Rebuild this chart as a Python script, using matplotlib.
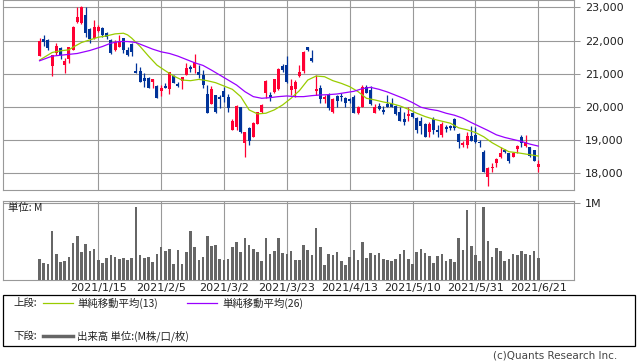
import numpy as np
import matplotlib
matplotlib.use("Agg")
import matplotlib.pyplot as plt
from matplotlib.lines import Line2D
from matplotlib.patches import Rectangle
from matplotlib.ticker import FuncFormatter

plt.rcParams['font.family'] = ['DejaVu Sans', 'Noto Sans CJK JP']
JP = ['Noto Sans CJK JP', 'DejaVu Sans']

# daily candles (yen)
opens = [21540, 22050, 22020, 21240, 21620, 21770, 21260, 21440, 21720, 22570,
         22520, 22770, 22340, 22070, 22300, 22370, 22220, 22020, 21700, 21820,
         22070, 21700, 21890, 21090, 21090, 20860, 20880, 20760, 20640, 20490,
         20640, 20540, 20930, 20690, 20780, 20960, 21210, 21160, 21060, 20960,
         20390, 20090, 20360, 20290, 20490, 20310, 19310, 19410, 20010, 18920,
         19360, 19100, 19490, 19860, 20430, 20360, 20460, 20530, 21240, 21260,
         20510, 20530, 20930, 21090, 21800, 21460, 20480, 20560, 20230, 20360,
         19860, 20330, 20330, 20260, 20230, 20290, 19830, 20010, 20590, 20510,
         19830, 20030, 19910, 20090, 20110, 20030, 19860, 19630, 19730, 19830,
         19660, 19590, 19490, 19250, 19630, 19310, 19150, 19390, 19430, 19640,
         19180, 18840, 18850, 19120, 19150, 18950, 18650, 17900, 18150, 18300,
         18480, 18700, 18620, 18500, 18720, 19100, 18830, 18800, 18700, 18200]
highs = [22080, 22180, 22050, 21570, 21920, 21820, 21460, 21820, 22440, 23000,
         23040, 23000, 22370, 22620, 22470, 22400, 22270, 22040, 22020, 22170,
         22090, 21820, 21920, 21330, 21210, 21030, 20910, 20850, 20660, 20660,
         20710, 21060, 20960, 20760, 20890, 21310, 21260, 21580, 21260, 21110,
         20660, 20630, 20360, 20360, 20610, 20380, 19630, 20060, 20010, 19230,
         19410, 19560, 19860, 20090, 20810, 20460, 20830, 21160, 21290, 21530,
         20830, 20810, 21260, 21670, 21820, 21710, 20960, 20660, 20360, 20410,
         20260, 20360, 20430, 20310, 20260, 20360, 20030, 20660, 20660, 20630,
         20090, 20110, 20030, 20360, 20260, 20060, 20010, 19860, 19990, 19860,
         19710, 19710, 19510, 19560, 19690, 19460, 19560, 19460, 19460, 19660,
         19200, 18980, 19250, 19420, 19390, 19000, 18700, 18200, 18300, 18450,
         18780, 18720, 18620, 18650, 18850, 19160, 19160, 18800, 18700, 18400]
lows = [21540, 21840, 21700, 20930, 21560, 21440, 21030, 21310, 21710, 22520,
        22500, 22120, 21920, 22040, 22270, 22120, 22040, 21600, 21670, 21800,
        21620, 21530, 21530, 21010, 20760, 20610, 20560, 20560, 20280, 20330,
        20560, 20390, 20710, 20590, 20530, 20960, 21060, 21030, 20860, 20560,
        19830, 20090, 19830, 19960, 20160, 19860, 19310, 19310, 19200, 18480,
        18850, 19080, 19490, 19830, 20260, 20190, 20410, 20510, 21060, 20710,
        20360, 20290, 20890, 21030, 21670, 21360, 20360, 20130, 20130, 19910,
        19830, 20010, 20190, 20010, 20110, 19810, 19790, 19990, 20410, 20060,
        19810, 19910, 19790, 19990, 19990, 19760, 19590, 19460, 19590, 19660,
        19210, 19180, 19090, 19100, 19180, 19100, 19100, 19230, 19290, 19310,
        18750, 18780, 18750, 18980, 18920, 18800, 18050, 17620, 18050, 18200,
        18450, 18620, 18320, 18480, 18620, 18780, 18800, 18480, 18380, 18040]
closes = [21980, 21970, 21790, 21560, 21840, 21560, 21390, 21790, 22420, 22720,
          23000, 22240, 22040, 22420, 22420, 22170, 22100, 21620, 21970, 21970,
          21700, 21560, 21650, 21030, 20760, 20790, 20570, 20840, 20280, 20580,
          20580, 21040, 20710, 20630, 20890, 21180, 21150, 21360, 20960, 20660,
          19830, 20530, 19860, 20240, 20290, 19960, 19590, 20030, 19230, 19230,
          18980, 19530, 19860, 20060, 20780, 20310, 20830, 21140, 21110, 20760,
          20630, 20760, 21060, 21640, 21700, 21390, 20530, 20230, 20290, 19960,
          20230, 20190, 20290, 20110, 20180, 19830, 20010, 20590, 20430, 20090,
          19990, 19950, 19860, 20010, 20010, 19790, 19590, 19550, 19790, 19690,
          19290, 19430, 19090, 19490, 19290, 19250, 19490, 19330, 19360, 19360,
          18950, 18920, 19120, 18980, 18950, 18900, 18050, 18150, 18200, 18420,
          18620, 18650, 18380, 18600, 18820, 18900, 18900, 18520, 18380, 18280]

# volume (millions)
volume = [0.274, 0.222, 0.209, 0.639, 0.339, 0.235, 0.248, 0.300, 0.483, 0.574,
          0.365, 0.470, 0.378, 0.404, 0.261, 0.222, 0.287, 0.326, 0.300, 0.274,
          0.287, 0.261, 0.287, 0.952, 0.326, 0.287, 0.300, 0.235, 0.339, 0.430,
          0.378, 0.404, 0.209, 0.391, 0.209, 0.365, 0.639, 0.430, 0.261, 0.300,
          0.574, 0.443, 0.457, 0.274, 0.261, 0.274, 0.430, 0.496, 0.365, 0.548,
          0.457, 0.404, 0.365, 0.248, 0.548, 0.339, 0.378, 0.548, 0.352, 0.339,
          0.378, 0.261, 0.261, 0.457, 0.391, 0.326, 0.678, 0.430, 0.196, 0.339,
          0.326, 0.365, 0.248, 0.196, 0.300, 0.391, 0.261, 0.496, 0.287, 0.352,
          0.326, 0.352, 0.274, 0.261, 0.248, 0.274, 0.339, 0.391, 0.274, 0.209,
          0.365, 0.404, 0.352, 0.313, 0.222, 0.313, 0.339, 0.248, 0.274, 0.235,
          0.548, 0.391, 0.913, 0.443, 0.326, 0.248, 0.952, 0.509, 0.300, 0.417,
          0.378, 0.248, 0.274, 0.339, 0.326, 0.378, 0.339, 0.326, 0.378, 0.287]

# moving averages
ma13_idx = [0, 3, 5, 7, 8, 10, 12, 14, 16, 18, 20, 21, 22, 24, 26, 28, 30, 32, 34, 36,
            38, 40, 42, 44, 46, 48, 50, 52, 54, 56, 58, 60, 62, 64, 66, 68, 70, 72, 74, 76,
            78, 80, 82, 84, 86, 88, 90, 92, 94, 96, 98, 100, 102, 104, 106, 108, 110, 112,
            114, 116, 119]
ma13 = [21410, 21640, 21690, 21720, 21800, 21940, 22020, 22100, 22140, 22200, 22220,
        22170, 22070, 21820, 21530, 21260, 21090, 20930, 20810, 20790, 20830, 20790,
        20730, 20630, 20530, 20310, 19910, 19790, 19810, 19910, 20060, 20260, 20490,
        20810, 20930, 20910, 20790, 20710, 20610, 20460, 20260, 20210, 20150, 20100,
        20030, 19930, 19810, 19710, 19630, 19570, 19510, 19370, 19310, 19230, 19100,
        18920, 18780, 18650, 18620, 18580, 18520]
ma26_idx = [0, 3, 6, 9, 12, 15, 17, 19, 21, 23, 25, 27, 29, 31, 33, 35, 37, 39, 41, 43,
            45, 47, 49, 51, 53, 55, 57, 59, 61, 63, 65, 67, 69, 71, 73, 75, 77, 79, 81, 83,
            85, 87, 89, 91, 93, 95, 97, 99, 101, 103, 105, 107, 109, 111, 113, 115, 117, 119]
ma26 = [21390, 21530, 21570, 21610, 21700, 21820, 21920, 21970, 21970, 21940, 21840,
        21740, 21660, 21610, 21530, 21430, 21330, 21250, 21110, 20960, 20810, 20660,
        20460, 20310, 20260, 20280, 20310, 20330, 20310, 20310, 20340, 20360, 20370,
        20390, 20430, 20470, 20550, 20590, 20530, 20450, 20350, 20250, 20130, 19990,
        19930, 19890, 19810, 19750, 19660, 19530, 19410, 19290, 19160, 19080, 19020,
        18960, 18880, 18820]

tick_idx = [14, 29, 44, 59, 74, 89, 104, 119]
tick_labels = ['2021/1/15', '2021/2/5', '2021/3/2', '2021/3/23',
               '2021/4/13', '2021/5/10', '2021/5/31', '2021/6/21']
price_ticks = [18000, 19000, 20000, 21000, 22000, 23000]

W, H = 638, 362
UP = '#ff0033'
DOWN = '#003399'
GRID = '#999999'


def fx(x):
    return x / W


def fy(y):
    return 1 - y / H


fig = plt.figure(figsize=(W / 100, H / 100), dpi=100)

# price panel
ax = fig.add_axes([fx(3), fy(190), 571.3 / W, 190 / H])
o = np.array(opens)
c = np.array(closes)
x = np.arange(len(o))
colors = np.where(c >= o, UP, DOWN)
ax.vlines(x, lows, highs, colors=colors, lw=0.9, zorder=3)
body = np.maximum(np.abs(c - o), 30)
ax.bar(x, body, bottom=np.minimum(o, c), width=0.72, color=colors, lw=0, zorder=4)
ax.plot(ma13_idx, ma13, color='#99cc00', lw=0.9, zorder=5)
ax.plot(ma26_idx, ma26, color='#9900ff', lw=0.9, zorder=5)

ax.set_xlim(-8.73, 127.6)
ax.set_ylim(17497, 23221)
ax.set_xticks(tick_idx)
ax.set_xticklabels([])
ax.yaxis.tick_right()
ax.set_yticks(price_ticks)
ax.yaxis.set_major_formatter(FuncFormatter(lambda v, p: f'{int(v):,}'))
ax.tick_params(axis='x', length=0)
ax.tick_params(axis='y', length=4.5, width=0.75, color=GRID, pad=3,
               labelsize=8, labelcolor='#222222')
ax.grid(True, color=GRID, lw=0.8, zorder=0)
ax.set_axisbelow(True)
for s in ax.spines.values():
    s.set_color(GRID)
    s.set_linewidth(0.8)

# volume panel
axv = fig.add_axes([fx(3), fy(280), 571.3 / W, 78.7 / H])
axv.bar(x, volume, width=0.62, color='#666666', lw=0, zorder=3)
axv.set_xlim(-8.73, 127.6)
axv.set_ylim(0, 1.026)
axv.set_xticks(tick_idx)
axv.set_xticklabels(tick_labels, fontsize=8, color='#222222')
axv.yaxis.tick_right()
axv.set_yticks([1.0])
axv.set_yticklabels(['1M'], fontsize=8, color='#222222')
axv.tick_params(axis='x', length=0, pad=2)
axv.tick_params(axis='y', length=4.5, width=0.75, color=GRID, pad=3)
axv.grid(True, color=GRID, lw=0.8, zorder=0)
axv.set_axisbelow(True)
for s in axv.spines.values():
    s.set_color(GRID)
    s.set_linewidth(0.8)
fig.text(fx(8), fy(208), '単位: M', fontsize=7.5, family=JP, va='center', ha='left', color='#222222')

# legend box
fig.patches.append(Rectangle((fx(3), fy(346)), 632 / W, 51 / H, transform=fig.transFigure,
                             fill=False, ec='black', lw=0.9))
fig.text(fx(13), fy(303), '上段:', fontsize=7.5, family=JP, va='center', color='#222222')
fig.add_artist(Line2D([fx(43), fx(73)], [fy(303)] * 2, color='#99cc00', lw=0.9))
fig.text(fx(77), fy(303), '単純移動平均(13)', fontsize=7.5, family=JP, va='center', color='#222222')
fig.add_artist(Line2D([fx(187), fx(217)], [fy(303)] * 2, color='#9900ff', lw=0.9))
fig.text(fx(222), fy(303), '単純移動平均(26)', fontsize=7.5, family=JP, va='center', color='#222222')
fig.text(fx(13), fy(336), '下段:', fontsize=7.5, family=JP, va='center', color='#222222')
fig.add_artist(Line2D([fx(43), fx(73)], [fy(336)] * 2, color='#666666', lw=2.5))
fig.text(fx(77), fy(336), '出来高 単位:(M株/口/枚)', fontsize=7.5, family=JP, va='center', color='#222222')

fig.text(fx(617), fy(356), '(c)Quants Research Inc.', fontsize=7.5, ha='right', va='center', color='#444444')

fig.savefig('out.png', dpi=100)
